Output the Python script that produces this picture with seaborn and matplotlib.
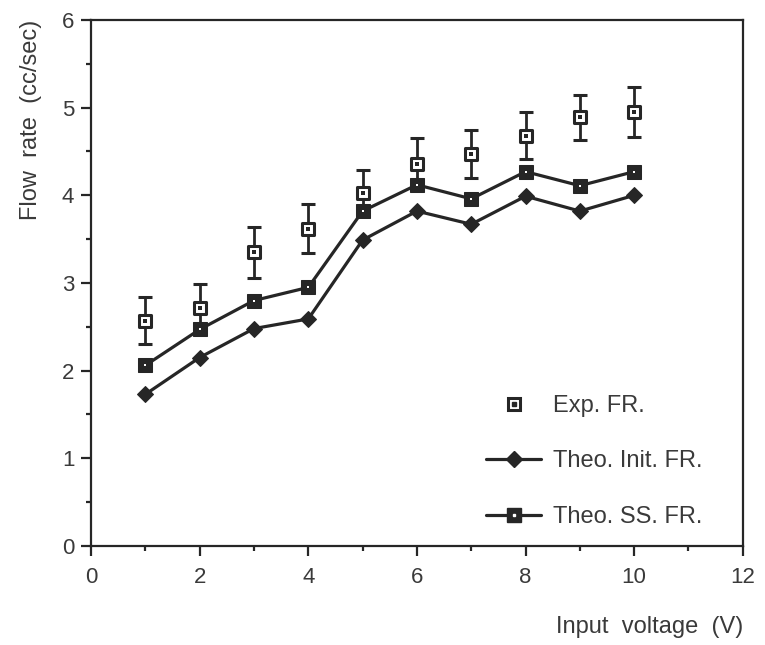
import numpy as np
import pandas as pd
import matplotlib
matplotlib.use("Agg")
import matplotlib.pyplot as plt
from matplotlib.lines import Line2D
from matplotlib.ticker import MultipleLocator
import seaborn as sns

# Input voltage (V)
voltage = [1, 2, 3, 4, 5, 6, 7, 8, 9, 10]
# Measured flow rate (cc/sec) with its spread
exp_fr = [2.57, 2.72, 3.35, 3.62, 4.03, 4.36, 4.47, 4.68, 4.89, 4.95]
exp_err = [0.27, 0.27, 0.29, 0.28, 0.26, 0.29, 0.27, 0.27, 0.26, 0.28]
# Theoretical initial and steady-state flow rates (cc/sec)
theo_init = [1.73, 2.15, 2.48, 2.59, 3.49, 3.82, 3.67, 3.99, 3.82, 4.00]
theo_ss = [2.06, 2.47, 2.80, 2.95, 3.82, 4.12, 3.96, 4.27, 4.11, 4.27]

ink = "#262626"
txt = "#3a3a3a"

sns.set_theme(style="ticks")
plt.rcParams["font.family"] = ["Liberation Sans", "DejaVu Sans"]

df = pd.DataFrame({"V": voltage, "exp": exp_fr, "err": exp_err,
                   "init": theo_init, "ss": theo_ss})

fig = plt.figure(figsize=(7.65, 6.45), dpi=100)
ax = fig.add_axes([0.119, 0.1535, 0.852, 0.8155])

# Theoretical curves
sns.lineplot(data=df, x="V", y="init", ax=ax, color=ink, lw=2.3,
             marker="D", markersize=8.5, markeredgecolor=ink,
             markerfacecolor=ink, legend=False, zorder=3)
sns.lineplot(data=df, x="V", y="ss", ax=ax, color=ink, lw=2.3,
             marker="s", markersize=10, markeredgecolor=ink,
             markerfacecolor=ink, legend=False, zorder=3)
sns.scatterplot(data=df, x="V", y="ss", ax=ax, marker="s", s=3,
                color="white", linewidth=0, zorder=4, legend=False)

# Experimental points with error bars
ax.errorbar(df["V"], df["exp"], yerr=df["err"], fmt="none", ecolor=ink,
            elinewidth=2.0, capsize=4.8, capthick=2.2, zorder=2)
sns.scatterplot(data=df, x="V", y="exp", ax=ax, marker="s", s=78,
                color="white", edgecolor=ink, linewidth=2.2, zorder=5,
                legend=False)
sns.scatterplot(data=df, x="V", y="exp", ax=ax, marker="s", s=5,
                color=ink, linewidth=0, zorder=6, legend=False)

ax.set_xlim(0, 12)
ax.set_ylim(0, 6)
ax.xaxis.set_major_locator(MultipleLocator(2))
ax.xaxis.set_minor_locator(MultipleLocator(1))
ax.yaxis.set_major_locator(MultipleLocator(1))
ax.yaxis.set_minor_locator(MultipleLocator(0.5))
ax.tick_params(which="major", direction="out", length=7, width=1.6,
               color=ink, labelsize=16, labelcolor=txt)
ax.tick_params(which="minor", direction="out", length=3.5, width=1.6,
               color=ink)
ax.tick_params(axis="x", which="major", pad=8)
ax.tick_params(axis="y", which="major", pad=5)
for sp in ax.spines.values():
    sp.set_linewidth(1.6)
    sp.set_color(ink)

ax.set_xlabel("Input  voltage  (V)", fontsize=17, color=txt, loc="right",
              labelpad=20)
ax.set_ylabel("Flow  rate  (cc/sec)", fontsize=17, color=txt, loc="top",
              labelpad=14)

h_exp = (Line2D([], [], ls="none", marker="s", markersize=9,
                markerfacecolor="white", markeredgecolor=ink,
                markeredgewidth=2.2),
         Line2D([], [], ls="none", marker="s", markersize=2.2, color=ink))
h_init = Line2D([], [], color=ink, lw=2.3, marker="D", markersize=8.5)
h_ss = (Line2D([], [], color=ink, lw=2.3, marker="s", markersize=10),
        Line2D([], [], ls="none", marker="s", markersize=1.8, color="white"))
leg = ax.legend([h_exp, h_init, h_ss],
                ["Exp. FR.", "Theo. Init. FR.", "Theo. SS. FR."],
                loc="lower right", bbox_to_anchor=(0.97, -0.006),
                frameon=False, fontsize=17, handlelength=2.3,
                labelspacing=1.42, handletextpad=0.5)
for t in leg.get_texts():
    t.set_color(txt)

fig.savefig("out.png", dpi=100)
